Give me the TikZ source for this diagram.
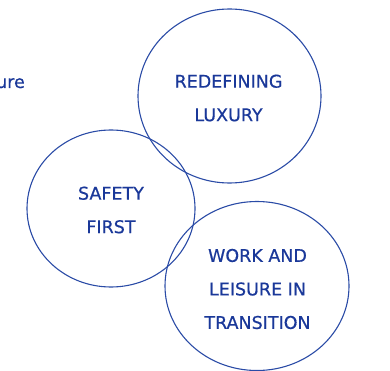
\documentclass[tikz,border=0pt]{standalone}
\usepackage{fontspec}
\setmainfont[FakeBold=0.6]{DejaVu Sans}
\definecolor{ringblue}{HTML}{2A4BA6}
\definecolor{txtblue}{HTML}{1A3899}
\begin{document}
\begin{tikzpicture}[x=1pt,y=-1pt,
  ring/.style={draw=ringblue,line width=1.1pt},
  lbl/.style={text=txtblue,font=\fontsize{17.5}{33.5}\selectfont,align=center,inner sep=0pt}]
\useasboundingbox (0,0) rectangle (390,371);
\draw[ring] (229.5,96) ellipse [x radius=91.5,y radius=87];
\draw[ring] (111,208.5) ellipse [x radius=84,y radius=78.5];
\draw[ring] (257,286) ellipse [x radius=92,y radius=84.5];
\node[lbl] (lux) at (228.5,98) {REDEFINING\\LUXURY};
\node[lbl] (safe) at (111,210) {SAFETY\\FIRST};
\node[lbl] (work) at (257.5,289) {WORK AND\\LEISURE IN\\TRANSITION};
\node[lbl,anchor=base east] (ure) at (25,88) {ure};
\end{tikzpicture}
\end{document}
